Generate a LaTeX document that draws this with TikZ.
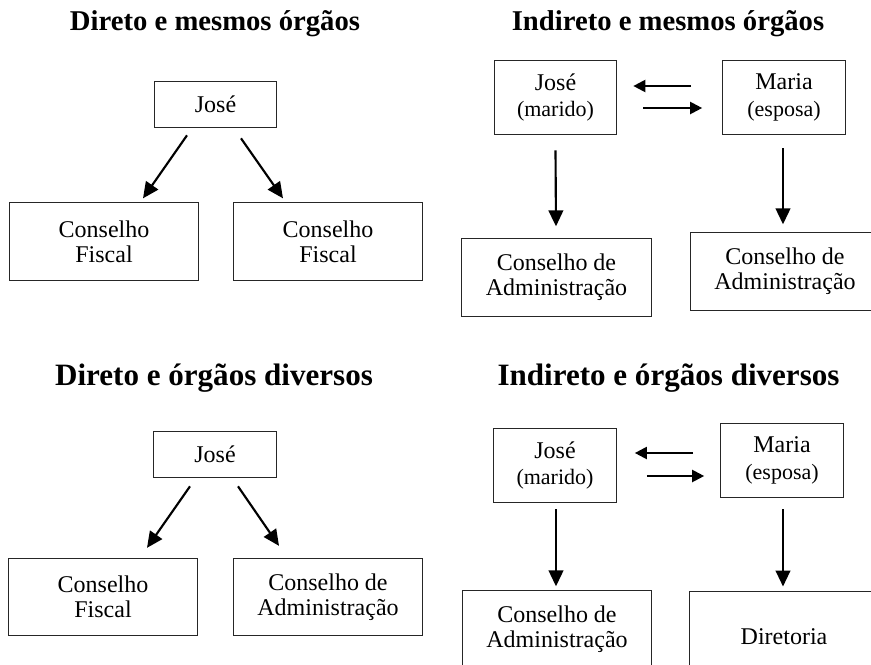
\documentclass[tikz,border=0pt]{standalone}
\usepackage{fontspec}
\setmainfont{Liberation Serif}
\usetikzlibrary{arrows.meta}
\tikzset{
  caixa/.style={draw=black!85, line width=0.75pt, align=center, inner sep=0pt, font=\fontsize{18}{19}\selectfont},
  nome/.style={caixa, minimum width=92pt, minimum height=35pt},
  conjuge/.style={caixa, minimum width=92pt, minimum height=56pt, font=\fontsize{18}{20}\selectfont},
  orgao/.style={caixa, minimum width=142pt, minimum height=58pt},
  titulo/.style={anchor=base, font=\bfseries\fontsize{21.5}{24}\selectfont},
  titulob/.style={anchor=base, font=\bfseries\fontsize{23.3}{26}\selectfont},
  seta/.style={line width=1.6pt, -{Triangle[length=12pt,width=11pt]}},
  setah/.style={line width=1.6pt, -{Triangle[length=9pt,width=9pt]}},
}
\newcommand{\papel}[1]{{\fontsize{16.5}{20}\selectfont #1}}
\begin{document}
\begin{tikzpicture}[x=0.75pt,y=-0.75pt]
\useasboundingbox (0,0) rectangle (871,664);
\clip (0,0) rectangle (871,664);
% Direto e mesmos orgaos
\node[titulo] (t1) at (215,30.5) {Direto e mesmos órgãos};
\node[nome] (jose1) at (215.5,104.5) {José};
\node[orgao] (cf1) at (104,241.5) {Conselho\\Fiscal};
\node[orgao] (cf2) at (328,241.5) {Conselho\\Fiscal};
\draw[seta] ([shift={(-28.5,7)}]jose1.south) -- ([shift={(39,-4)}]cf1.north);
\draw[seta] ([shift={(25.5,10)}]jose1.south) -- ([shift={(-45,-4)}]cf2.north);
% Indireto e mesmos orgaos
\node[titulo] (t2) at (668,30.5) {Indireto e mesmos órgãos};
\node[conjuge] (jose2) at (555.5,97.5) {José\\\papel{(marido)}};
\node[conjuge] (maria2) at (784,97.5) {Maria\\\papel{(esposa)}};
\node[orgao] (ca2a) at (556.5,277.5) {Conselho de\\Administração};
\node[orgao] (ca2b) at (785,271.5) {Conselho de\\Administração};
\draw[setah] ([shift={(-31,-11.5)}]maria2.west) -- ([shift={(16,-11.5)}]jose2.east);
\draw[setah] ([shift={(26,10.5)}]jose2.east) -- ([shift={(-20,10.5)}]maria2.west);
\draw[seta] ([shift={(0,15)}]jose2.south) -- ([shift={(-0.5,-12)}]ca2a.north);
\draw[seta] ([shift={(-1,13)}]maria2.south) -- ([shift={(-2,-8)}]ca2b.north);
% Direto e orgaos diversos
\node[titulob] (t3) at (214,385) {Direto e órgãos diversos};
\node[nome] (jose3) at (215,454.5) {José};
\node[orgao] (cf3) at (103,597) {Conselho\\Fiscal};
\node[orgao] (ca3) at (328,597) {Conselho de\\Administração};
\draw[seta] ([shift={(-25,8)}]jose3.south) -- ([shift={(44,-10)}]cf3.north);
\draw[seta] ([shift={(23,8)}]jose3.south) -- ([shift={(-49,-12)}]ca3.north);
% Indireto e orgaos diversos
\node[titulob] (t4) at (668.5,385) {Indireto e órgãos diversos};
\node[conjuge] (jose4) at (555,465.5) {José\\\papel{(marido)}};
\node[conjuge] (maria4) at (782,460.5) {Maria\\\papel{(esposa)}};
\node[orgao] (ca4) at (557,629.5) {Conselho de\\Administração};
\node[orgao, minimum height=69pt] (dir4) at (784,637) {Diretoria};
\draw[setah] ([shift={(-27,-7.5)}]maria4.west) -- ([shift={(18,-12.5)}]jose4.east);
\draw[setah] ([shift={(30,10.5)}]jose4.east) -- ([shift={(-16,15.5)}]maria4.west);
\draw[seta] ([shift={(1,6)}]jose4.south) -- ([shift={(-1,-4)}]ca4.north);
\draw[seta] ([shift={(1,11)}]maria4.south) -- ([shift={(-1,-4)}]dir4.north);
\end{tikzpicture}
\end{document}
